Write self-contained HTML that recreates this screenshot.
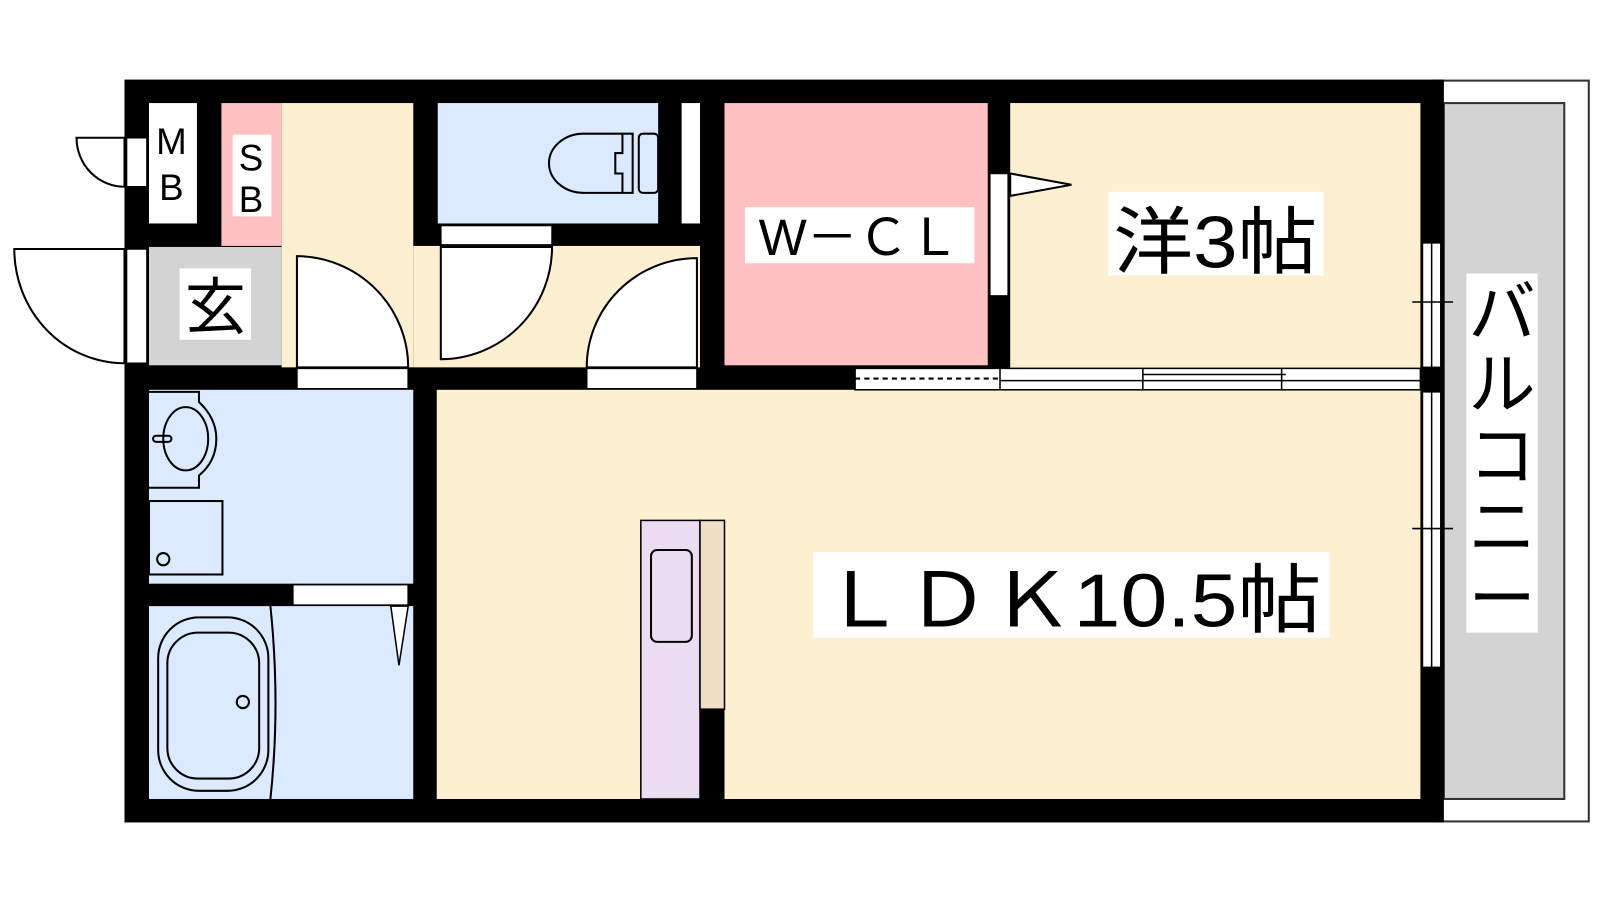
<!DOCTYPE html>
<html><head><meta charset="utf-8"><style>html,body{margin:0;padding:0;background:#fff}svg{display:block}text{font-family:"Liberation Sans","Noto Sans CJK JP",sans-serif;fill:#000}</style></head><body>
<svg width="1600" height="900" viewBox="0 0 1568 882" preserveAspectRatio="none" xmlns="http://www.w3.org/2000/svg">
<rect x="1405" y="79" width="152" height="726" fill="#fff" stroke="#333" stroke-width="2"/>
<rect x="1415" y="101" width="118" height="682" fill="#d3d3d3" stroke="#333" stroke-width="2"/>
<rect x="122" y="78" width="1293" height="728" fill="#000"/>
<rect x="146" y="101" width="47" height="118" fill="#fff"/>
<rect x="217" y="101" width="59" height="140" fill="#ffc0c0"/>
<rect x="276" y="101" width="129" height="259" fill="#fdf0d0"/>
<rect x="405" y="241" width="281" height="119" fill="#fdf0d0"/>
<rect x="429" y="101" width="216" height="118" fill="#dbeafe"/>
<rect x="668" y="101" width="18" height="118" fill="#fff"/>
<rect x="146" y="242" width="130" height="116" fill="#d3d3d3"/>
<rect x="710" y="101" width="258" height="257" fill="#ffc0c0"/>
<rect x="990" y="101" width="402" height="260" fill="#fdf0d0"/>
<rect x="428" y="382" width="964" height="401" fill="#fdf0d0"/>
<rect x="146" y="382" width="259" height="190" fill="#dbeafe"/>
<rect x="146" y="594" width="259" height="189" fill="#dbeafe"/>
<rect x="838" y="361" width="554" height="21" fill="#fff" stroke="#000" stroke-width="1.5"/>
<line x1="838" y1="371" x2="980" y2="371" stroke="#000" stroke-width="2" stroke-dasharray="5,4"/>
<line x1="980" y1="361" x2="980" y2="382" stroke="#000" stroke-width="1.5"/>
<line x1="980" y1="373" x2="1392" y2="373" stroke="#000" stroke-width="1.5"/>
<line x1="1120" y1="361" x2="1120" y2="382" stroke="#000" stroke-width="1.5"/>
<line x1="1120" y1="367" x2="1260" y2="367" stroke="#000" stroke-width="1.5"/>
<line x1="1256" y1="361" x2="1256" y2="382" stroke="#000" stroke-width="1.5"/>
<rect x="1394" y="238" width="18" height="122" fill="#fff" stroke="#000" stroke-width="1.5"/>
<line x1="1403" y1="238" x2="1403" y2="360" stroke="#000" stroke-width="1.5"/>
<rect x="1394" y="384" width="18" height="270" fill="#fff" stroke="#000" stroke-width="1.5"/>
<line x1="1403" y1="384" x2="1403" y2="654" stroke="#000" stroke-width="1.5"/>
<line x1="1384" y1="296" x2="1424" y2="296" stroke="#000" stroke-width="1.5"/>
<line x1="1384" y1="518" x2="1424" y2="518" stroke="#000" stroke-width="1.5"/>
<rect x="291" y="361" width="109" height="20" fill="#fff" stroke="#000" stroke-width="1.5"/>
<rect x="575" y="361" width="108" height="20" fill="#fff" stroke="#000" stroke-width="1.5"/>
<rect x="432" y="221" width="109" height="19" fill="#fff" stroke="#000" stroke-width="1.5"/>
<rect x="287" y="573" width="113" height="20" fill="#fff" stroke="#000" stroke-width="1.5"/>
<rect x="970" y="170" width="18" height="120" fill="#fff" stroke="#000" stroke-width="1.5"/>
<rect x="124" y="135" width="20" height="48" fill="#fff" stroke="#000" stroke-width="1.5"/>
<rect x="124" y="244" width="20" height="112" fill="#fff" stroke="#000" stroke-width="1.5"/>
<g fill="#fff" stroke="#000" stroke-width="2">
<path d="M122 135 H75 A47 48 0 0 0 122 183 Z"/>
<path d="M122 244 H14 A108 112 0 0 0 122 356 Z"/>
<path d="M291 360 V251 A110 109 0 0 1 400 360 Z"/>
<path d="M432 242 V352 A109 110 0 0 0 541 242 Z"/>
<path d="M683 360 V253 A108 107 0 0 0 575 360 Z"/>
<path d="M990 170 L1050 181 L990 192 Z"/>
<path d="M383 594 L400 594 L391 652 Z" stroke-width="1.5"/>
</g>
<g fill="none" stroke="#000" stroke-width="2">
<path d="M600 131 H572 A34 29 0 0 0 572 189 H620 V131 Z"/>
<path d="M610 131 V150 H603 V170 H610 V189"/>
<rect x="626" y="131" width="19" height="58" rx="4"/>
<path d="M146 384 H195 V394 Q212 410 212 430 Q212 452 195 466 V478 H146"/>
<ellipse cx="182" cy="430" rx="22" ry="31"/>
<rect x="150" y="427" width="18" height="6" rx="3"/>
<rect x="146" y="491" width="72" height="72"/>
<circle cx="160" cy="548" r="6"/>
<rect x="155" y="605" width="108" height="170" rx="40"/>
<rect x="164" y="620" width="90" height="143" rx="30"/>
<circle cx="238" cy="688" r="6"/>
<path d="M265 594 Q275 690 265 783"/>
</g>
<rect x="628" y="510" width="58" height="273" fill="#ecdcf2" stroke="#000" stroke-width="1.5"/>
<rect x="686" y="510" width="24" height="185" fill="#efdfc5" stroke="#000" stroke-width="1.5"/>
<rect x="686" y="695" width="24" height="88" fill="#000"/>
<rect x="638" y="539" width="40" height="90" rx="6" fill="none" stroke="#000" stroke-width="2"/>
<text x="168" y="151" font-size="36" text-anchor="middle">M</text>
<text x="168" y="196" font-size="36" text-anchor="middle">B</text>
<rect x="228" y="132" width="38" height="80" fill="#fff"/>
<text x="246" y="167" font-size="36" text-anchor="middle">S</text>
<text x="246" y="208" font-size="36" text-anchor="middle">B</text>
<rect x="176" y="263" width="70" height="70" fill="#fff"/>
<text x="211" y="322" font-size="60" text-anchor="middle">玄</text>
<rect x="730" y="203" width="225" height="55" fill="#fff"/>
<text x="842" y="250" font-size="50" text-anchor="middle">W－ＣＬ</text>
<rect x="1086" y="188" width="211" height="82" fill="#fff"/>
<text x="1191" y="262" font-size="72" text-anchor="middle" textLength="200" lengthAdjust="spacingAndGlyphs">洋3帖</text>
<rect x="797" y="541" width="506" height="84" fill="#fff"/>
<text x="1050" y="614" font-size="74" text-anchor="middle" textLength="490" lengthAdjust="spacingAndGlyphs">ＬＤＫ10.5帖</text>
<rect x="1437" y="268" width="70" height="352" fill="#fff"/>
<g font-size="66" text-anchor="middle">
<text x="1472" y="330">バ</text>
<text x="1472" y="400">ル</text>
<text x="1472" y="470">コ</text>
<text x="1472" y="540">ニ</text>
<text x="1472" y="610">ー</text>
</g>
</svg>
</body></html>
